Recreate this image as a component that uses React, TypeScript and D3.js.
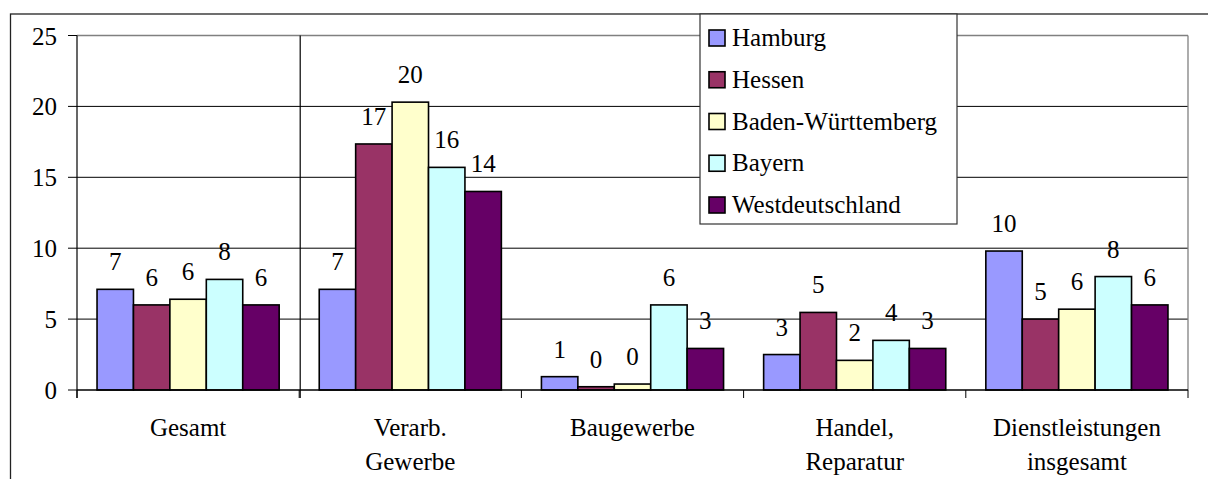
import React from "react";
import * as d3 from "d3";

const categories = [["Gesamt"], ["Verarb.", "Gewerbe"], ["Baugewerbe"], ["Handel,", "Reparatur"], ["Dienstleistungen", "insgesamt"]];
const seriesNames = ["Hamburg", "Hessen", "Baden-Württemberg", "Bayern", "Westdeutschland"];
const seriesColors = ["#9999FF", "#993366", "#FFFFCC", "#CCFFFF", "#660066"];
const hamburg = [7.1, 7.1, 0.94, 2.5, 9.8];
const hessen = [6.0, 17.35, 0.23, 5.47, 5.0];
const badenWuerttemberg = [6.4, 20.3, 0.42, 2.09, 5.7];
const bayern = [7.8, 15.7, 6.0, 3.5, 8.0];
const westdeutschland = [6.0, 14.0, 2.93, 2.93, 6.0];
const yTicks = [0, 5, 10, 15, 20, 25];

const series = [hamburg, hessen, badenWuerttemberg, bayern, westdeutschland];

const W = 1208;
const H = 479;
const left = 77;
const right = 1188;
const top = 35.5;
const bottom = 390;
const font = '"Liberation Serif", "Times New Roman", "DejaVu Serif", serif';
const ts: React.CSSProperties = { fontFamily: font, fontSize: 25 };

export default function App() {
  const x = d3.scaleBand<number>().domain(d3.range(categories.length)).range([left, right]).padding(0);
  const bw = x.bandwidth();
  const inner = d3.scaleBand<number>().domain(d3.range(series.length)).range([0, bw]).paddingOuter(0.55).paddingInner(0);
  const y = d3.scaleLinear().domain([0, 25]).range([bottom, top]);
  const boundaries = d3.range(categories.length + 1).map((i) => left + i * bw);

  return (
    <svg width={W} height={H} style={{ position: "absolute", left: 0, top: 0, background: "#fff" }}>
      <rect x={0} y={0} width={W} height={H} fill="#fff" />
      <rect x={10.5} y={14} width={1400} height={700} fill="none" stroke="#222" strokeWidth={1.3} />
      {yTicks.filter((t) => t > 0 && t < 25).map((t) => (
        <line key={t} x1={left} x2={right} y1={y(t)} y2={y(t)} stroke="#000" strokeWidth={1} />
      ))}
      <line x1={left} x2={right} y1={y(25)} y2={y(25)} stroke="#808080" strokeWidth={1.3} />
      <line x1={right} x2={right} y1={y(25)} y2={bottom} stroke="#808080" strokeWidth={1.3} />
      <line x1={boundaries[1] + 1} x2={boundaries[1] + 1} y1={y(25)} y2={bottom + 8} stroke="#000" strokeWidth={1.2} />
      <line x1={left} x2={left} y1={y(25)} y2={bottom + 8} stroke="#000" strokeWidth={1.2} />
      {yTicks.map((t) => (
        <g key={t}>
          <line x1={left - 9} x2={left} y1={y(t)} y2={y(t)} stroke="#000" strokeWidth={1} />
          <text x={57} y={y(t)} dy="0.36em" textAnchor="end" style={ts} fill="#000">{t}</text>
        </g>
      ))}
      {categories.map((c, ci) => (
        <g key={ci}>
          {series.map((s, si) => {
            const bx = (x(ci) as number) + (inner(si) as number);
            const v = s[ci];
            return (
              <g key={si}>
                <rect x={bx} y={y(v)} width={inner.bandwidth()} height={bottom - y(v)} fill={seriesColors[si]} stroke="#000" strokeWidth={1.6} />
                <text x={bx + inner.bandwidth() / 2} y={y(v) - 19} textAnchor="middle" style={ts} fill="#000">{Math.round(v)}</text>
              </g>
            );
          })}
        </g>
      ))}
      <line x1={left} x2={right} y1={bottom} y2={bottom} stroke="#000" strokeWidth={1.3} />
      {boundaries.map((b, i) => (
        <line key={i} x1={b} x2={b} y1={bottom} y2={bottom + 8} stroke="#000" strokeWidth={1} />
      ))}
      {categories.map((c, ci) => (
        <text key={ci} x={(x(ci) as number) + bw / 2} y={436} textAnchor="middle" style={ts} fill="#000">
          {c.map((line, li) => (
            <tspan key={li} x={(x(ci) as number) + bw / 2} dy={li === 0 ? 0 : 34}>{line}</tspan>
          ))}
        </text>
      ))}
      <rect x={700} y={14} width={257} height={210} fill="#fff" stroke="#333" strokeWidth={1.2} />
      {seriesNames.map((n, i) => {
        const cy = 38 + i * 41.75;
        return (
          <g key={n}>
            <rect x={709} y={cy - 8} width={16} height={16} fill={seriesColors[i]} stroke="#000" strokeWidth={1.6} />
            <text x={732} y={cy + 8} style={ts} fill="#000">{n}</text>
          </g>
        );
      })}
    </svg>
  );
}
